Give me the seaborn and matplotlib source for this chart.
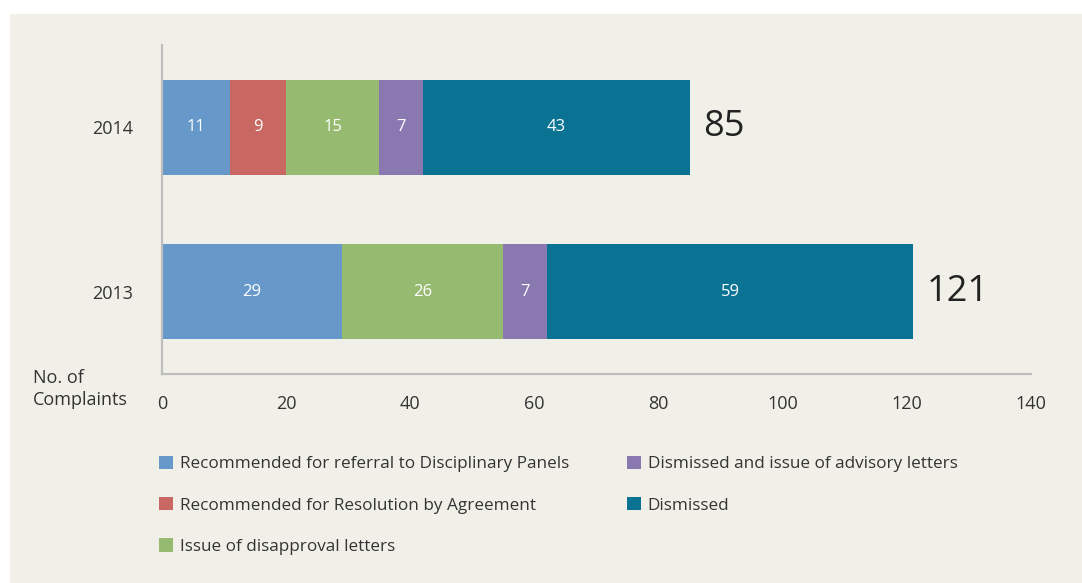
import numpy as np
import pandas as pd
import matplotlib
matplotlib.use("Agg")
import matplotlib.pyplot as plt
from matplotlib.patches import Rectangle, Patch
import seaborn as sns

years = ["2014", "2013"]
categories = [
    "Recommended for referral to Disciplinary Panels",
    "Recommended for Resolution by Agreement",
    "Issue of disapproval letters",
    "Dismissed and issue of advisory letters",
    "Dismissed",
]
referral = [11, 29]
resolution = [9, 0]
disapproval = [15, 26]
advisory = [7, 7]
dismissed = [43, 59]
totals = [85, 121]
xticks = [0, 20, 40, 60, 80, 100, 120, 140]

colors = ["#6699C9", "#C96762", "#97BA71", "#8A79B0", "#0A7393"]
series = [referral, resolution, disapproval, advisory, dismissed]

sns.set_theme(style="white")
plt.rcParams["font.family"] = ["Open Sans", "DejaVu Sans"]
TXT = "#333333"

fig = plt.figure(figsize=(10.82, 5.83), dpi=100, facecolor="white")
fig.patches.append(Rectangle((10 / 1082, 0), 1, (583 - 14) / 583, transform=fig.transFigure,
                             facecolor="#F1F0E8", edgecolor="none", zorder=-10))
ax = fig.add_axes([162 / 1082, (583 - 374) / 583, (1031 - 162) / 1082, (374 - 45) / 583])
ax.set_facecolor("none")

vals = np.array(series, dtype=float)
cum = np.cumsum(vals, axis=0)
for i in reversed(range(len(series))):
    df = pd.DataFrame({"year": years, "value": cum[i]})
    sns.barplot(data=df, x="value", y="year", orient="h", color=colors[i], saturation=1,
                width=0.58, ax=ax, linewidth=0, zorder=2)

for i in range(len(series)):
    for j in range(len(years)):
        v = vals[i, j]
        if v > 0:
            ax.text(cum[i, j] - v / 2, j, f"{int(v)}", ha="center", va="center",
                    color="white", fontsize=12, zorder=5)

for j, t in enumerate(totals):
    ax.annotate(f"{t}", xy=(cum[-1, j], j), xytext=(10, 0), textcoords="offset points",
                ha="left", va="center", color="#222222", fontsize=26, zorder=5)

ax.set_xlim(0, 140)
ax.set_ylim(1.5, -0.5)
ax.set_xticks(xticks)
ax.set_xticklabels([str(x) for x in xticks])
ax.tick_params(axis="x", length=0, pad=15, labelsize=13, colors=TXT)
ax.tick_params(axis="y", length=0, pad=21, labelsize=13, colors=TXT)
ax.set_xlabel("")
ax.set_ylabel("")
for s in ["top", "right"]:
    ax.spines[s].set_visible(False)
for s in ["left", "bottom"]:
    ax.spines[s].set_color("#BDBDBD")
    ax.spines[s].set_linewidth(1.6)
ax.spines["left"].set_zorder(6)

fig.text(33 / 1082, (583 - 389) / 583, "No. of\nComplaints", ha="left", va="center",
         fontsize=13, color=TXT, linespacing=1.25)

handles = [Patch(facecolor=c, edgecolor="none") for c in colors]
common = dict(frameon=False, fontsize=12.3, handlelength=0.8, handleheight=0.8,
              handletextpad=0.4, labelspacing=1.45, borderpad=0, borderaxespad=0,
              labelcolor=TXT, loc="upper left")
leg1 = fig.legend(handles[:3], categories[:3], bbox_to_anchor=(159 / 1082, (583 - 456) / 583), **common)
leg2 = fig.legend(handles[3:], categories[3:], bbox_to_anchor=(627 / 1082, (583 - 456) / 583), **common)

fig.savefig("out.png", dpi=100, facecolor=fig.get_facecolor())
